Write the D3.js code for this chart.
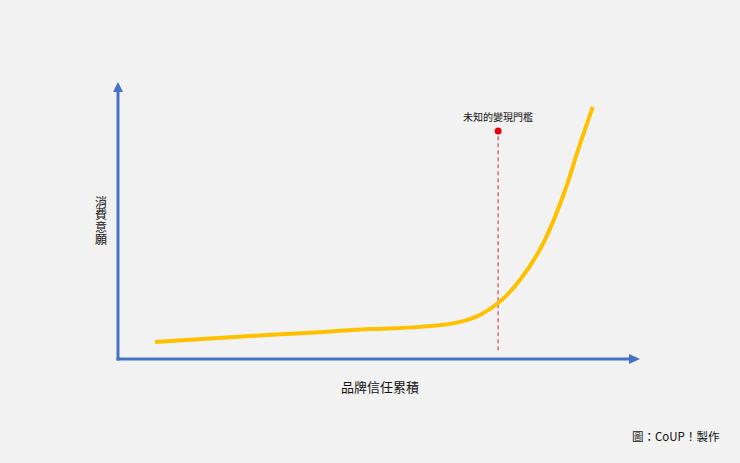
<!DOCTYPE html>
<html><head><meta charset="utf-8">
<script src="https://cdn.jsdelivr.net/npm/d3@7"></script>
<style>html,body{margin:0;padding:0;background:#f2f2f2;}svg{display:block;}</style>
</head><body>
<script>
const curveX = [7.1, 25.4, 38.8, 48.5, 58.1, 65.8, 69.6, 73.1, 77.3, 82.1, 86.0, 88.8, 91.3];
const curveY = [6.1, 8.3, 9.7, 10.8, 11.6, 13.4, 15.9, 20.2, 28.5, 43.0, 61.0, 77.3, 91.0];
const thresholdX = [73.1];
const thresholdY = [3.2, 82.3];
const labels = {y: "消費意願", x: "品牌信任累積", threshold: "未知的變現門檻", credit: "圖：CoUP！製作"};

const W = 740, H = 463;
const svg = d3.select("body").append("svg").attr("width", W).attr("height", H);
svg.append("rect").attr("width", W).attr("height", H).attr("fill", "#f2f2f2");
const font = "'Noto Sans CJK TC','Noto Sans CJK SC',sans-serif";

const x = d3.scaleLinear().domain([0, 100]).range([118, 638]);
const y = d3.scaleLinear().domain([0, 100]).range([359, 82]);
const blue = "#4472C4";

// axes
svg.append("line").attr("x1", x(0)).attr("x2", x(0)).attr("y1", y(0) + 1.5).attr("y2", y(100) + 8)
  .attr("stroke", blue).attr("stroke-width", 3);
svg.append("line").attr("x1", x(0) - 1.5).attr("x2", x(100) - 8).attr("y1", y(0)).attr("y2", y(0))
  .attr("stroke", blue).attr("stroke-width", 3);
svg.append("path").attr("d", `M${x(0)},${y(100)} L${x(0)-5},${y(100)+10} L${x(0)+5},${y(100)+10} Z`).attr("fill", blue);
svg.append("path").attr("d", `M${x(100)+2},${y(0)} L${x(100)-9},${y(0)-5} L${x(100)-9},${y(0)+5} Z`).attr("fill", blue);

// threshold dashed line
svg.append("line").attr("x1", x(thresholdX[0])).attr("x2", x(thresholdX[0]))
  .attr("y1", y(thresholdY[0])).attr("y2", y(thresholdY[1]))
  .attr("stroke", "#e0666a").attr("stroke-width", 1.5).attr("stroke-dasharray", "4,3");

// curve
const pts = curveX.map((v, i) => [v, curveY[i]]);
svg.append("path").datum(pts)
  .attr("d", d3.line().x(d => x(d[0])).y(d => y(d[1])).curve(d3.curveMonotoneX))
  .attr("fill", "none").attr("stroke", "#FFC000").attr("stroke-width", 4).attr("stroke-linecap", "butt");

svg.append("circle").attr("cx", x(thresholdX[0])).attr("cy", y(thresholdY[1])).attr("r", 3.5).attr("fill", "#e8000b");

svg.append("text").attr("x", x(thresholdX[0])).attr("y", 121).attr("text-anchor", "middle")
  .attr("font-family", font).attr("font-size", 10).attr("fill", "#111").text(labels.threshold);

// y label vertical
svg.append("text").attr("x", 101).attr("y", 196)
  .style("writing-mode", "vertical-rl").style("text-orientation", "upright")
  .attr("font-family", font).attr("font-size", 12).attr("letter-spacing", 0.5).attr("fill", "#111").text(labels.y);

svg.append("text").attr("x", 380).attr("y", 392).attr("text-anchor", "middle")
  .attr("font-family", font).attr("font-size", 13).attr("fill", "#111").text(labels.x);

svg.append("text").attr("x", 632).attr("y", 441)
  .attr("font-family", font).attr("font-size", 11.5).attr("fill", "#111").text(labels.credit);
</script>
</body></html>
